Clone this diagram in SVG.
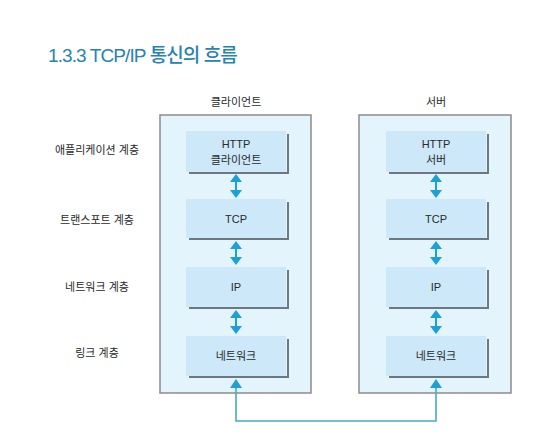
<svg xmlns="http://www.w3.org/2000/svg" width="548" height="444" viewBox="0 0 548 444">
<defs>
<style>
.t{font-family:"Liberation Sans","Noto Sans CJK KR",sans-serif;font-size:11px;fill:#2a2a2a;text-anchor:middle}
.panel{fill:#e4f4fd;stroke:#8c8c8c;stroke-width:1.5}
.box{fill:#cde8f8}
.sh{fill:none;stroke:#6d777d;stroke-width:2}
.ar{fill:#1d9fd8}
.al{stroke:#1d9fd8;stroke-width:2}
.link{fill:none;stroke:#4aa9c9;stroke-width:1.6}
</style>
</defs>
<rect width="548" height="444" fill="#fff"/>
<text x="48" y="62" font-family="'Liberation Sans','Noto Sans CJK KR',sans-serif" font-size="19" font-weight="500" letter-spacing="-0.9" fill="#2683b3">1.3.3 TCP/IP 통신의 흐름</text>

<g id="layer-labels">
<text class="t" x="97" y="154">애플리케이션 계층</text>
<text class="t" x="97" y="224">트랜스포트 계층</text>
<text class="t" x="97" y="291">네트워크 계층</text>
<text class="t" x="97" y="357">링크 계층</text>
</g>

<g id="client">
<text class="t" x="236" y="106">클라이언트</text>
<rect class="panel" x="160" y="115" width="151" height="278"/>
</g>
<g id="server">
<text class="t" x="436" y="106">서버</text>
<rect class="panel" x="359" y="115" width="152" height="278"/>
</g>

<g id="c-http">
<rect class="box" x="186" y="131" width="100" height="41"/>
<path class="sh" d="M189,173 H288 V134"/>
<text class="t" x="236" y="148">HTTP</text>
<text class="t" x="236" y="164">클라이언트</text>
</g>
<g id="c-tcp">
<rect class="box" x="186" y="199" width="100" height="39"/>
<path class="sh" d="M189,239 H288 V202"/>
<text class="t" x="236" y="223">TCP</text>
</g>
<g id="c-ip">
<rect class="box" x="186" y="267" width="100" height="40"/>
<path class="sh" d="M189,308 H288 V270"/>
<text class="t" x="236" y="291">IP</text>
</g>
<g id="c-net">
<rect class="box" x="186" y="336" width="100" height="40"/>
<path class="sh" d="M189,377 H288 V339"/>
<text class="t" x="236" y="360">네트워크</text>
</g>

<g id="s-http">
<rect class="box" x="386" y="131" width="100" height="41"/>
<path class="sh" d="M389,173 H488 V134"/>
<text class="t" x="436" y="148">HTTP</text>
<text class="t" x="436" y="164">서버</text>
</g>
<g id="s-tcp">
<rect class="box" x="386" y="199" width="100" height="39"/>
<path class="sh" d="M389,239 H488 V202"/>
<text class="t" x="436" y="223">TCP</text>
</g>
<g id="s-ip">
<rect class="box" x="386" y="267" width="100" height="40"/>
<path class="sh" d="M389,308 H488 V270"/>
<text class="t" x="436" y="291">IP</text>
</g>
<g id="s-net">
<rect class="box" x="386" y="336" width="100" height="40"/>
<path class="sh" d="M389,377 H488 V339"/>
<text class="t" x="436" y="360">네트워크</text>
</g>

<g id="connectors">
<g transform="translate(236,0)">
<line class="al" x1="0" y1="180" x2="0" y2="192"/>
<path class="ar" d="M0,174 L6,182 H-6 Z M0,198 L6,190 H-6 Z"/>
<line class="al" x1="0" y1="247" x2="0" y2="259"/>
<path class="ar" d="M0,241 L6,249 H-6 Z M0,265 L6,257 H-6 Z"/>
<line class="al" x1="0" y1="316" x2="0" y2="328"/>
<path class="ar" d="M0,310 L6,318 H-6 Z M0,334 L6,326 H-6 Z"/>
</g>
<g transform="translate(436,0)">
<line class="al" x1="0" y1="180" x2="0" y2="192"/>
<path class="ar" d="M0,174 L6,182 H-6 Z M0,198 L6,190 H-6 Z"/>
<line class="al" x1="0" y1="247" x2="0" y2="259"/>
<path class="ar" d="M0,241 L6,249 H-6 Z M0,265 L6,257 H-6 Z"/>
<line class="al" x1="0" y1="316" x2="0" y2="328"/>
<path class="ar" d="M0,310 L6,318 H-6 Z M0,334 L6,326 H-6 Z"/>
</g>
<path class="link" d="M236,388 V421 H436 V388"/>
<path class="ar" d="M236,379 L242,388 H230 Z M436,379 L442,388 H430 Z"/>
</g>
</svg>
